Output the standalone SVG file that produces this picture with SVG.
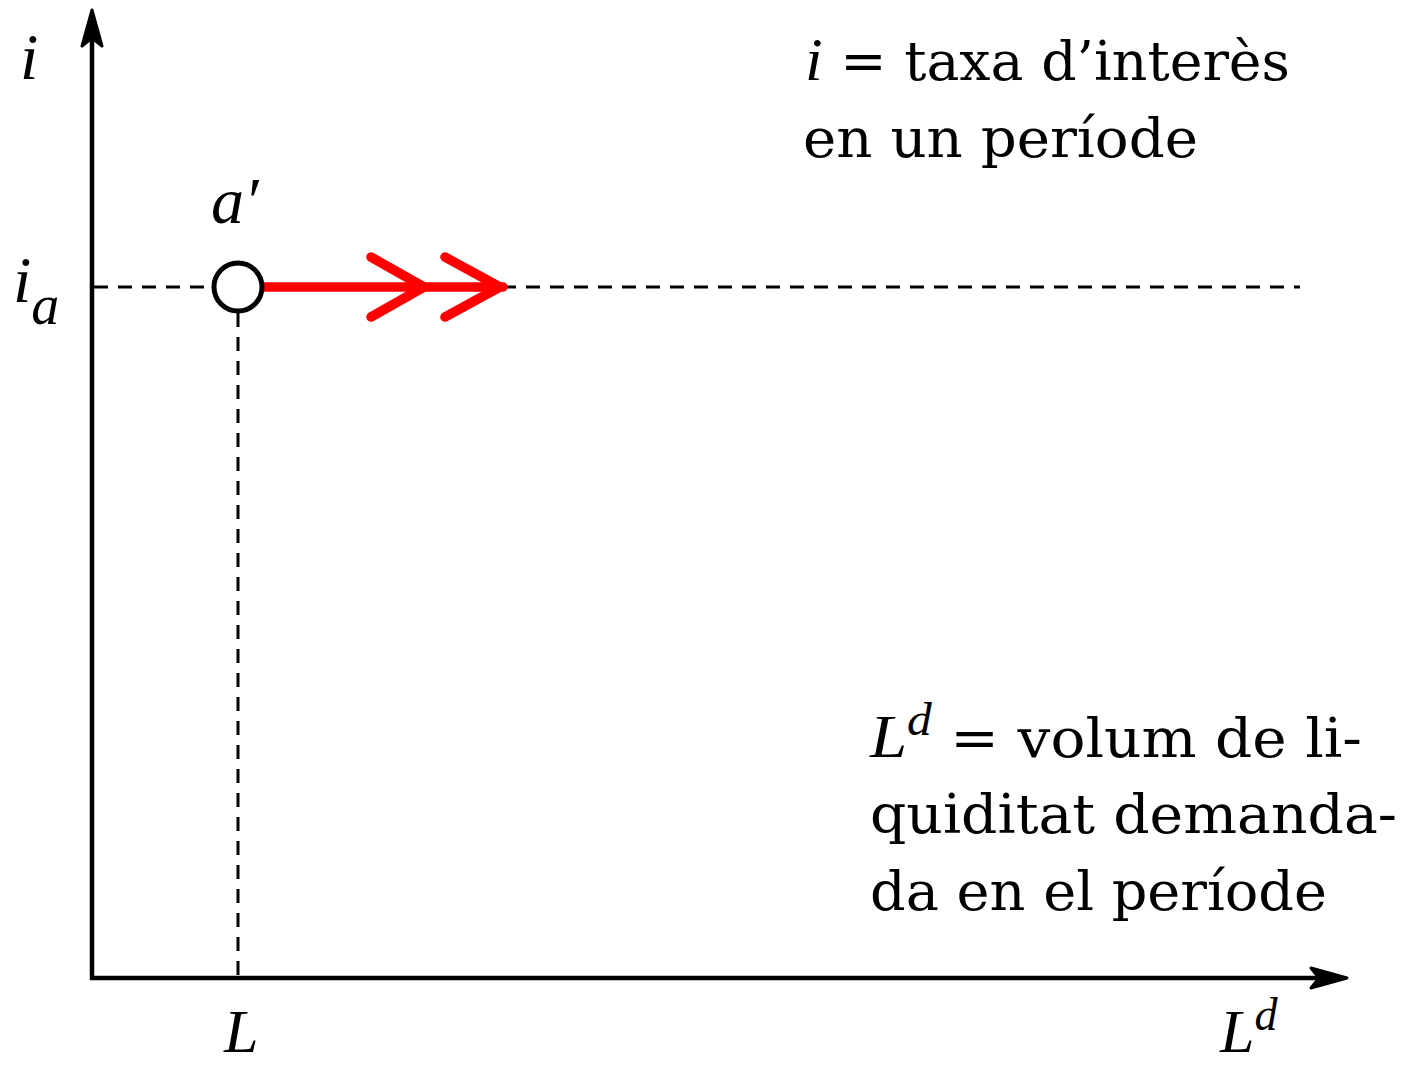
<svg xmlns="http://www.w3.org/2000/svg" width="1410" height="1067" viewBox="0 0 1410 1067">
<style>
text{font-family:"DejaVu Serif","Liberation Serif",serif;fill:#000;}
.m{font-family:"Liberation Serif","DejaVu Serif",serif;font-style:italic;}
.t{font-size:54px;}
.ml{font-size:66px;}
.dash{stroke:#000;stroke-width:3;stroke-dasharray:14 10;fill:none;}
.axis{stroke:#000;stroke-width:4.5;fill:none;}
.red{stroke:#ff0000;stroke-width:9.5;fill:none;stroke-linecap:round;stroke-linejoin:round;}
</style>
<rect width="1410" height="1067" fill="#fff"/>
<g id="connectors">
<line class="dash" x1="94" y1="287" x2="1300" y2="287"/>
<line class="dash" x1="238" y1="313" x2="238" y2="978"/>
<line class="axis" x1="92" y1="980" x2="92" y2="30"/>
<path d="M92,10 L102,46 L92,38 L82,46 Z" fill="#000" stroke="#000" stroke-width="3" stroke-linejoin="round"/>
<line class="axis" x1="90" y1="978" x2="1325" y2="978"/>
<path d="M1347,978 L1311,968 L1319,978 L1311,988 Z" fill="#000" stroke="#000" stroke-width="3" stroke-linejoin="round"/>
<line class="red" x1="262" y1="287" x2="503" y2="287" stroke-linecap="butt"/>
<path class="red" d="M371,257 L424,287 L371,317"/>
<path class="red" d="M445,257 L500,287 L445,317"/>
</g>
<g id="node-a">
<circle cx="238" cy="287" r="24" fill="#fff" stroke="#000" stroke-width="5"/>
<text class="m ml" x="211" y="223">a′</text>
</g>
<g id="labels">
<text class="m ml" x="20" y="79">i</text>
<text class="m ml" x="13" y="302">i<tspan font-size="56" dy="22">a</tspan></text>
<text class="m" font-size="62" x="224" y="1052">L</text>
<text class="m" font-size="62" x="1220" y="1052">L<tspan font-size="46" dy="-22">d</tspan></text>
</g>
<g id="legend-i">
<text class="t" x="805" y="80" textLength="485" lengthAdjust="spacingAndGlyphs"><tspan class="m" font-size="62">i</tspan> = taxa d’interès</text>
<text class="t" x="803" y="157" textLength="395" lengthAdjust="spacingAndGlyphs">en un període</text>
</g>
<g id="legend-L">
<text class="t" x="870" y="757" textLength="492" lengthAdjust="spacingAndGlyphs"><tspan class="m" font-size="62">L</tspan><tspan class="m" font-size="46" dy="-22">d</tspan><tspan dy="22"> = volum de li-</tspan></text>
<text class="t" x="870" y="833" textLength="527" lengthAdjust="spacingAndGlyphs">quiditat demanda-</text>
<text class="t" x="870" y="910" textLength="457" lengthAdjust="spacingAndGlyphs">da en el període</text>
</g>
</svg>
